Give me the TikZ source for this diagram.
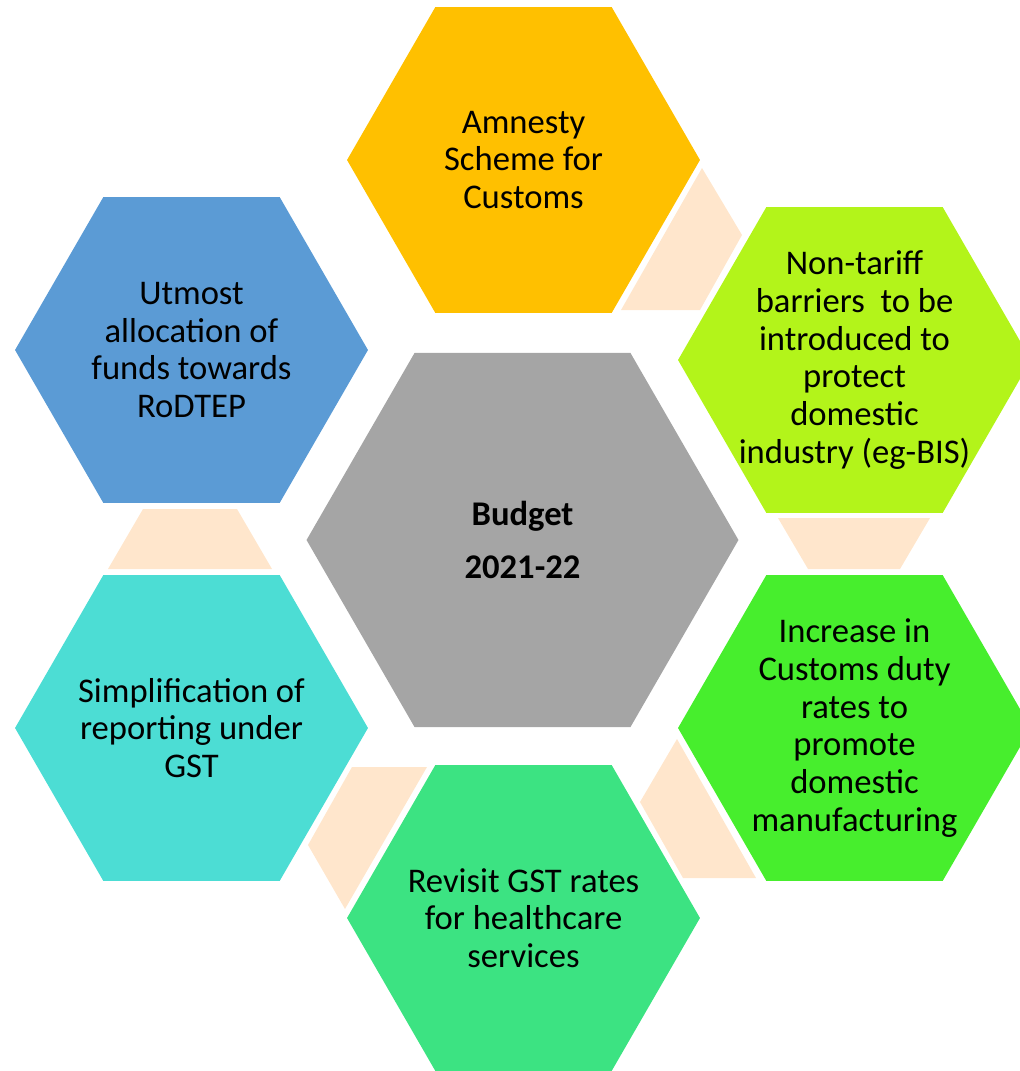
\documentclass[tikz,border=0pt]{standalone}
\usepackage{fontspec}
\setmainfont{Carlito}
\usetikzlibrary{shapes.geometric}
\definecolor{gold}{HTML}{FFC000}
\definecolor{lime}{HTML}{B3F41A}
\definecolor{brightgreen}{HTML}{47EE2D}
\definecolor{seagreen}{HTML}{3CE382}
\definecolor{aqua}{HTML}{4CDDD4}
\definecolor{steel}{HTML}{5B9BD5}
\definecolor{stone}{HTML}{A5A5A5}
\definecolor{peach}{HTML}{FFE6CC}
\tikzset{
  hexa/.style={regular polygon, regular polygon sides=6, inner sep=0pt,
    outer sep=0pt, minimum size=7.06cm},
  label/.style={align=center, font=\fontsize{19.7}{21.5}\selectfont},
  link/.style={fill=peach}
}
\begin{document}
\begin{tikzpicture}[x=0.02cm, y=-0.02cm]
      \clip (0,0) rectangle (1020,1071);
      % cells
      \node[hexa, fill=stone, minimum size=8.64cm] (budget) at (522.5,540) {};
      \node[hexa, fill=gold] (amnesty) at (523.5,160) {};
      \node[hexa, fill=lime] (tariff) at (854.5,360) {};
      \node[hexa, fill=brightgreen] (duty) at (854.5,728) {};
      \node[hexa, fill=seagreen] (revisit) at (523.5,918) {};
      \node[hexa, fill=aqua] (simplify) at (191.5,728) {};
      \node[hexa, fill=steel] (rodtep) at (191.5,350) {};
      % links
      \begin{scope}
        \fill[link] (702,168) -- (742,235) -- (700,310) -- (621,310) -- cycle;
        \fill[link] (778,518) -- (930,518) -- (900,569) -- (808,569) -- cycle;
        \fill[link] (677,739) -- (640,802) -- (683,878) -- (756,878) -- cycle;
        \fill[link] (352,767) -- (427,767) -- (345,909) -- (308,845) -- cycle;
        \fill[link] (143,509) -- (237,509) -- (272,569) -- (108,569) -- cycle;
      \end{scope}
      % texts
      \node[label, font=\fontsize{19.7}{30}\selectfont\bfseries] (budgettext) at (budget) {Budget\\2021-22};
      \node[label] (amnestytext) at (amnesty) {Amnesty\\Scheme for\\Customs};
      \node[label] (tarifftext) at (tariff) {Non-tariff\\barriers~ to be\\introduced to\\protect\\domestic\\industry (eg-BIS)};
      \node[label] (dutytext) at (duty) {Increase in\\Customs duty\\rates to\\promote\\domestic\\manufacturing};
      \node[label] (revisittext) at (revisit) {Revisit GST rates\\for healthcare\\services};
      \node[label] (simplifytext) at (simplify) {Simplification of\\reporting under\\GST};
      \node[label] (rodteptext) at (rodtep) {Utmost\\allocation of\\funds towards\\RoDTEP};
    \end{tikzpicture}
\end{document}
